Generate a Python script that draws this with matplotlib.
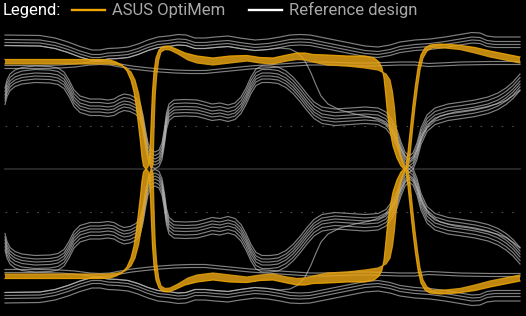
import numpy as np
import matplotlib
matplotlib.use("Agg")
import matplotlib.pyplot as plt
from matplotlib.lines import Line2D

# ---------------- data (time in a.u., amplitude in a.u.; 0 = eye centre) -------------
# ASUS OptiMem bundle: early edge (A) and late edge (B) of the trace band (upper half)
optimem_early_t = [5, 100, 110, 116, 122, 127, 131, 134, 136.5, 138.5, 140.5, 142, 143.5, 146, 148, 149.5,
                   150.5, 151.5, 152.5, 154, 156, 159, 163, 168, 175, 185, 197, 213, 230, 247, 260, 273,
                   287, 297, 305, 313, 327, 347, 365, 374, 379, 382, 384, 385.5, 387, 389.5, 393, 397,
                   401, 404, 406, 408, 410.5, 413, 415.5, 418, 421, 425, 430, 440, 457, 475, 490, 505, 520]
optimem_early_a = [109.5, 109.5, 109, 107, 104, 98, 89, 77, 61, 44, 27, 12, 3, 0, 2, 9,
                   29, 54, 77, 97, 111, 119, 122.5, 123, 120.5, 116, 113, 111, 113, 113.5, 111.5, 111,
                   114, 116, 116, 114.5, 114, 113, 113, 111, 107, 101, 91, 77, 61, 41, 23, 11,
                   3, 0, 2, 17, 41, 64, 84, 101, 114, 121, 124, 125, 124, 121.5, 118, 115, 112]
optimem_late_t = [5, 108, 118, 125, 131, 135, 138.5, 141.5, 144, 146.5, 148.5, 150, 151.5, 153, 153.6, 154.3,
                  155.2, 156.7, 158.7, 161, 165, 170, 178, 188, 197, 213, 230, 247, 260, 273, 287, 297,
                  305, 313, 327, 347, 365, 378, 386, 390, 392.5, 394.5, 396, 398, 401, 404, 406, 408,
                  410, 412.5, 415, 417.5, 420, 423, 427, 432, 445, 460, 475, 490, 505, 520]
optimem_late_a = [105, 105, 104, 102, 97, 89, 76, 59, 41, 24, 11, 3, 0, 4, 24, 49,
                  74, 94, 109, 117, 119.5, 119, 115, 109, 106, 104, 106, 108, 106, 105, 108, 109.5,
                  109, 107, 104, 103, 101, 99, 95, 89, 77, 61, 44, 27, 13, 4, 0, 1,
                  14, 39, 62, 82, 99, 111, 118, 121, 121, 119.5, 116, 112, 109, 106]

# Reference design: "stays high" bundle (top line + per-line offsets)
ref_high_t = [5, 40, 55, 68, 80, 92, 100, 108, 118, 128, 138, 148, 158, 168, 178, 186, 195, 205, 215,
              228, 240, 255, 268, 280, 290, 300, 310, 320, 335, 350, 365, 378, 390, 400, 415, 430,
              445, 460, 472, 480, 487, 495, 520]
ref_high_a = [134, 133.5, 131, 127, 122.5, 119, 119, 120.5, 121, 122, 125, 129, 132, 133, 134.5, 134,
              131, 131, 132, 133, 131, 129, 130, 132, 134, 134.5, 134, 132, 129, 126, 123, 122, 124,
              127, 129, 130, 132, 134.5, 136.5, 136, 133, 132, 132]
ref_high_offsets = [0, -4.5, -7.5, -10.5]

# Reference design: pair running just below the OptiMem level
ref_mid_t = [5, 40, 60, 75, 90, 100, 110, 120, 132, 145, 160, 175, 190, 205, 220, 235, 250, 265, 280,
             295, 310, 325, 340, 355, 370, 385, 400, 415, 428, 440, 460, 490, 520]
ref_mid_a = [103.5, 103.5, 104, 105, 107, 107.5, 107, 105, 103, 101.5, 100, 99, 98.5, 98.5, 100, 101.5,
             103, 104, 105, 106, 107, 107, 106.5, 106, 106, 106.5, 107, 107, 105.5, 106, 107, 107.5, 107.5]
ref_mid_offsets = [0, -3]

# Reference design: transition bundle (top line + per-line offsets)
ref_trans_t = [5, 7, 10, 15, 22, 35, 50, 58, 64, 69, 74, 80, 90, 100, 108, 114, 119, 124, 130, 136,
               140, 143, 145.5, 148, 151, 155, 159, 162, 164.5, 166.5, 169, 174, 185, 197, 205, 212,
               220, 228, 235, 241, 246, 251, 256, 262, 270, 278, 286, 293, 300, 307, 314, 322, 335,
               350, 365, 378, 386, 392, 397, 401, 405, 409, 413, 417, 421, 427, 435, 448, 462, 475,
               488, 498, 506, 513, 520]
ref_trans_a = [81, 89, 95, 99, 101.5, 103, 102.5, 101, 97, 89, 79, 73, 70, 70, 69, 70, 73, 75, 74, 71,
               66, 54, 39, 26, 19, 17, 19, 26, 41, 56, 65, 69, 69.5, 69, 67, 65, 66, 64, 66, 72, 81,
               92, 100, 103, 103, 102, 98, 92, 84, 75, 67, 62, 60, 61, 62, 61, 57, 49, 39, 27, 17, 13,
               16, 26, 41, 54, 61, 65, 67, 69, 72, 76, 81, 87, 95]
ref_trans_offsets = [0, -3.5, -7, -10, -13, -16.5]

# Reference design: single trace that leaves the high bundle and drops
ref_cross_t = [5, 40, 55, 68, 80, 92, 100, 108, 118, 128, 138, 148, 158, 168, 178, 186, 195, 205, 215,
               228, 240, 255, 268, 280, 290, 298, 305, 311, 316, 321, 328, 340, 355, 370, 382, 390,
               396, 401, 406, 410, 414, 418, 423, 430, 440, 455, 470, 485, 497, 507, 514, 520]
ref_cross_a = [123.5, 123, 120.5, 116.5, 112, 108.5, 108.5, 110, 110.5, 111.5, 114.5, 118.5, 121.5,
               122.5, 124, 123.5, 120.5, 120.5, 121.5, 122.5, 120.5, 118.5, 119.5, 121, 120, 116, 108,
               96, 84, 73, 65, 59, 55, 52, 48, 42, 31, 20, 11, 8, 12, 22, 35, 46, 53, 57, 59, 62, 65,
               69, 74, 79]

threshold_level = 43
series_names = ["ASUS OptiMem", "Reference design"]

# ---------------- drawing -------------
W, H, DPI = 526, 316, 100
fig = plt.figure(figsize=(W / DPI, H / DPI), dpi=DPI, facecolor="black")
ax = fig.add_axes([0, 0, 1, 1], facecolor="black")
ax.set_xlim(0, 526)
ax.set_ylim(-147, 169)
ax.axis("off")

ORANGE = "#eaa514"
GRAY = "#bdbdbd"

# eye centre and threshold guides
ax.plot([5, 520], [0, 0], color="#2b2b2b", lw=1.3, zorder=1)
for s in (1, -1):
    ax.plot([5, 520], [s * threshold_level] * 2, color="#4d4d4d", lw=0.8,
            dashes=(1.5, 8), zorder=1)

for s in (1, -1):
    # reference traces
    for t, a, offs in ((ref_high_t, ref_high_a, ref_high_offsets),
                       (ref_mid_t, ref_mid_a, ref_mid_offsets),
                       (ref_trans_t, ref_trans_a, ref_trans_offsets)):
        for o in offs:
            ax.plot(t, s * (np.array(a) + o), color=GRAY, lw=0.85, alpha=0.68, zorder=2,
                    solid_joinstyle="round")
    ax.plot(ref_cross_t, s * np.array(ref_cross_a), color=GRAY, lw=0.85, alpha=0.68, zorder=2)

    # OptiMem band
    bt = np.r_[optimem_early_t, optimem_late_t[::-1]]
    ba = s * np.r_[optimem_early_a, optimem_late_a[::-1]]
    ax.fill(bt, ba, color=ORANGE, alpha=0.82, lw=0, zorder=3)
    ax.plot(optimem_early_t, s * np.array(optimem_early_a), color="#f2a900", lw=0.9, alpha=0.85, zorder=4)
    ax.plot(optimem_late_t, s * np.array(optimem_late_a), color="#e0a010", lw=0.9, alpha=0.85, zorder=4)

# legend row
font = "Roboto"
fig.text(3 / W, 1 - 15 / H, "Legend:", color="white", fontsize=12, family=font, va="baseline")
fig.add_artist(Line2D([72 / W, 105 / W], [1 - 9.5 / H] * 2, color="#f0a500", lw=1.7,
                      transform=fig.transFigure))
fig.text(112 / W, 1 - 15 / H, series_names[0], color="#a8a8a8", fontsize=12, family=font, va="baseline")
fig.add_artist(Line2D([249 / W, 282 / W], [1 - 9.5 / H] * 2, color="white", lw=1.7,
                      transform=fig.transFigure))
fig.text(289 / W, 1 - 15 / H, series_names[1], color="#a8a8a8", fontsize=12, family=font, va="baseline")

fig.savefig("out.png", dpi=DPI, facecolor="black")
